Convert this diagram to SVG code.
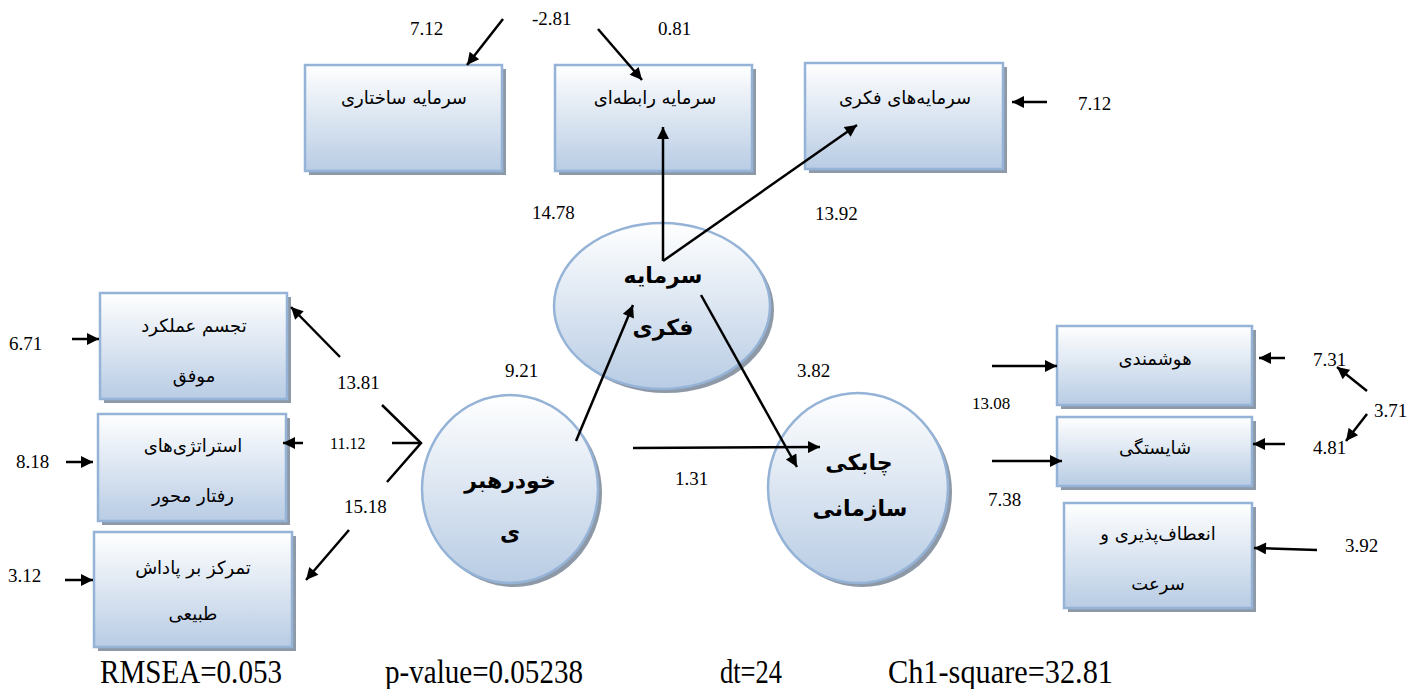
<svg xmlns="http://www.w3.org/2000/svg" width="1415" height="689" viewBox="0 0 1415 689">
  <defs>
    <linearGradient id="fillGrad" x1="0" y1="0" x2="0" y2="1">
      <stop offset="0" stop-color="#ffffff"/>
      <stop offset="1" stop-color="#b8cce4"/>
    </linearGradient>
    <marker id="arrow" viewBox="0 0 10 10" refX="10" refY="5" markerWidth="15" markerHeight="12" markerUnits="userSpaceOnUse" orient="auto">
      <path d="M0,0 L10,5 L0,10 z" fill="#000"/>
    </marker>
  </defs>
  <style>
    .box { fill: url(#fillGrad); stroke: #95b3d7; stroke-width: 2.5; }
    .shadow { fill: #8e99a8; }
    .ell { fill: url(#fillGrad); stroke: #95b3d7; stroke-width: 2.5; }
    .fa { font-family: 'DejaVu Sans', sans-serif; font-size: 18px; fill: #000; text-anchor: middle; }
    .fab { font-family: 'DejaVu Sans', sans-serif; font-size: 22px; font-weight: bold; fill: #000; text-anchor: middle; }
    .num { font-size: 19px; fill: #000; }
    .stat { font-size: 33px; fill: #000; }
    .ln { stroke: #000; stroke-width: 2.5; fill: none; }
    .arr { stroke: #000; stroke-width: 2.5; fill: none; marker-end: url(#arrow); }
  </style>

  <!-- indicator boxes: intellectual capital -->
  <g id="structural-capital">
    <rect class="shadow" x="309" y="69" width="197" height="106"/>
    <rect class="box" x="305" y="65" width="197" height="106"/>
    <text class="fa" x="404" y="104">سرمایه ساختاری</text>
  </g>
  <g id="relational-capital">
    <rect class="shadow" x="559" y="69" width="197" height="106"/>
    <rect class="box" x="555" y="65" width="197" height="106"/>
    <text class="fa" x="655" y="104">سرمایه رابطه‌ای</text>
  </g>
  <g id="intellectual-capitals">
    <rect class="shadow" x="809" y="67" width="198" height="106"/>
    <rect class="box" x="805" y="63" width="198" height="106"/>
    <text class="fa" x="905" y="104">سرمایه‌های فکری</text>
  </g>

  <!-- indicator boxes: self-leadership -->
  <g id="successful-performance">
    <rect class="shadow" x="104" y="297" width="187" height="106"/>
    <rect class="box" x="100" y="293" width="187" height="106"/>
    <text class="fa" x="194" y="332">تجسم عملکرد</text>
    <text class="fa" x="194" y="382">موفق</text>
  </g>
  <g id="behavior-strategies">
    <rect class="shadow" x="102" y="418" width="188" height="107"/>
    <rect class="box" x="98" y="414" width="188" height="107"/>
    <text class="fa" x="193" y="452">استراتژی‌های</text>
    <text class="fa" x="193" y="502">رفتار محور</text>
  </g>
  <g id="natural-reward">
    <rect class="shadow" x="98" y="536" width="198" height="115"/>
    <rect class="box" x="94" y="532" width="198" height="115"/>
    <text class="fa" x="193" y="574">تمرکز بر پاداش</text>
    <text class="fa" x="193" y="620">طبیعی</text>
  </g>

  <!-- indicator boxes: organizational agility -->
  <g id="intelligence">
    <rect class="shadow" x="1061" y="330" width="195" height="79"/>
    <rect class="box" x="1057" y="326" width="195" height="79"/>
    <text class="fa" x="1155" y="365">هوشمندی</text>
  </g>
  <g id="competence">
    <rect class="shadow" x="1061" y="421" width="195" height="69"/>
    <rect class="box" x="1057" y="417" width="195" height="69"/>
    <text class="fa" x="1155" y="454">شایستگی</text>
  </g>
  <g id="flexibility-speed">
    <rect class="shadow" x="1068" y="507" width="188" height="105"/>
    <rect class="box" x="1064" y="503" width="188" height="105"/>
    <text class="fa" x="1158" y="540">انعطاف‌پذیری و</text>
    <text class="fa" x="1158" y="590">سرعت</text>
  </g>

  <!-- latent variables -->
  <g id="intellectual-capital">
    <ellipse class="shadow" cx="666" cy="310" rx="108" ry="83"/>
    <ellipse class="ell" cx="662" cy="306" rx="108" ry="83"/>
    <text class="fab" x="663" y="283">سرمایه</text>
    <text class="fab" x="663" y="335">فکری</text>
  </g>
  <g id="self-leadership">
    <ellipse class="shadow" cx="514" cy="493" rx="88" ry="94"/>
    <ellipse class="ell" cx="510" cy="489" rx="88" ry="94"/>
    <text class="fab" x="510" y="488">خودرهبر</text>
    <text class="fab" x="510" y="540">ی</text>
  </g>
  <g id="organizational-agility">
    <ellipse class="shadow" cx="862" cy="492" rx="90" ry="95"/>
    <ellipse class="ell" cx="858" cy="488" rx="90" ry="95"/>
    <text class="fab" x="859" y="470">چابکی</text>
    <text class="fab" x="860" y="516">سازمانی</text>
  </g>

  <!-- connectors -->
  <g id="connectors">
    <line class="arr" x1="503" y1="19" x2="467" y2="65"/>
    <line class="arr" x1="598" y1="29" x2="642" y2="80"/>
    <line class="arr" x1="663" y1="261" x2="663" y2="127"/>
    <line class="arr" x1="663" y1="261" x2="857" y2="125"/>
    <line class="arr" x1="1047" y1="102" x2="1012" y2="102"/>

    <line class="arr" x1="72" y1="339" x2="99" y2="339"/>
    <line class="arr" x1="66" y1="462" x2="93" y2="462"/>
    <line class="arr" x1="65" y1="580" x2="93" y2="580"/>
    <line class="arr" x1="340" y1="357" x2="291" y2="307"/>
    <line class="arr" x1="303" y1="443" x2="283" y2="443"/>
    <line class="arr" x1="349" y1="530" x2="306" y2="580"/>
    <polyline class="ln" points="382,405 421,443 387,482"/>
    <line class="ln" x1="392" y1="443" x2="421" y2="443"/>

    <line class="arr" x1="576" y1="441" x2="633" y2="305"/>
    <line class="arr" x1="701" y1="295" x2="797" y2="467"/>
    <line class="arr" x1="633" y1="448" x2="820" y2="447"/>

    <line class="arr" x1="992" y1="366" x2="1057" y2="366"/>
    <line class="arr" x1="992" y1="461" x2="1062" y2="461"/>
    <line class="arr" x1="1285" y1="358" x2="1259" y2="358"/>
    <line class="arr" x1="1285" y1="444" x2="1253" y2="444"/>
    <line class="arr" x1="1317" y1="550" x2="1254" y2="548"/>
    <line class="arr" x1="1367" y1="391" x2="1337" y2="367"/>
    <line class="arr" x1="1367" y1="414" x2="1346" y2="441"/>
  </g>

  <!-- coefficients -->
  <g id="labels" font-family="Liberation Serif, Times New Roman, serif">
    <text class="num" x="410" y="35">7.12</text>
    <text class="num" x="532" y="25">-2.81</text>
    <text class="num" x="658" y="35">0.81</text>
    <text class="num" x="1078" y="110">7.12</text>
    <text class="num" x="532" y="219">14.78</text>
    <text class="num" x="815" y="220">13.92</text>
    <text class="num" x="505" y="377">9.21</text>
    <text class="num" x="797" y="377">3.82</text>
    <text class="num" x="675" y="485">1.31</text>
    <text class="num" x="9" y="350">6.71</text>
    <text class="num" x="16" y="468">8.18</text>
    <text class="num" x="8" y="582">3.12</text>
    <text class="num" x="337" y="389">13.81</text>
    <text class="num" x="330" y="449" style="font-size:16px">11.12</text>
    <text class="num" x="344" y="513">15.18</text>
    <text class="num" x="972" y="409" style="font-size:17px">13.08</text>
    <text class="num" x="988" y="506">7.38</text>
    <text class="num" x="1313" y="366">7.31</text>
    <text class="num" x="1313" y="454">4.81</text>
    <text class="num" x="1374" y="417">3.71</text>
    <text class="num" x="1345" y="552">3.92</text>
  </g>

  <!-- fit statistics -->
  <g id="fit-statistics" font-family="Liberation Serif, Times New Roman, serif">
    <text class="stat" x="100" y="683" textLength="182" lengthAdjust="spacingAndGlyphs">RMSEA=0.053</text>
    <text class="stat" x="385" y="683" textLength="198" lengthAdjust="spacingAndGlyphs">p-value=0.05238</text>
    <text class="stat" x="720" y="683" textLength="62" lengthAdjust="spacingAndGlyphs">dt=24</text>
    <text class="stat" x="888" y="683" textLength="225" lengthAdjust="spacingAndGlyphs">Ch1-square=32.81</text>
  </g>
</svg>
